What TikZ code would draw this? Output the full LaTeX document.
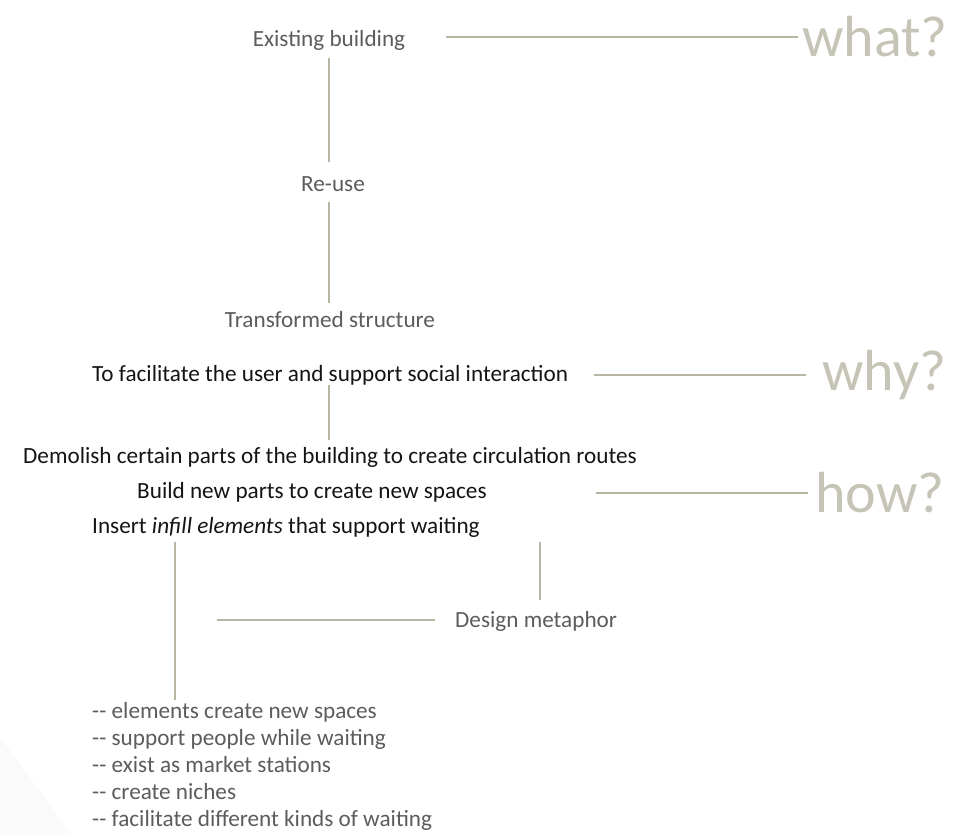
\documentclass[tikz,border=0pt]{standalone}
\usepackage{fontspec}
\setmainfont{Carlito}
\definecolor{lin}{HTML}{B8B5A2}
\definecolor{qcol}{HTML}{C6C4B6}
\definecolor{gtxt}{HTML}{5C5C5C}
\definecolor{btxt}{HTML}{141414}
\tikzset{
  conn/.style={draw=lin, line width=1.8pt},
  glabel/.style={inner sep=0pt, anchor=base, text=gtxt, font=\fontsize{23.2}{27}\selectfont},
  blabel/.style={inner sep=0pt, anchor=base west, text=btxt, font=\fontsize{23.2}{27}\selectfont},
  qlabel/.style={inner sep=0pt, anchor=base west, text=qcol, font=\fontsize{58}{60}\selectfont},
  llabel/.style={inner sep=0pt, anchor=north west, align=left, text=gtxt, font=\fontsize{23.2}{27}\selectfont},
}
\begin{document}
\begin{tikzpicture}[x=1pt,y=-1pt]
\useasboundingbox (0,0) rectangle (974,835);
\fill[black!2] (0,737) -- (72,835) -- (0,835) -- cycle;

% labels
\node[glabel] (eb) at (329,46) {Existing building};
\node[qlabel] (what) at (802,56) {what?};
\node[glabel] (reuse) at (333,191) {Re-use};
\node[glabel] (ts) at (330,327) {Transformed structure};
\node[blabel] (fac) at (92,381) {To facilitate the user and support social interaction};
\node[qlabel] (why) at (822,390) {why?};
\node[blabel] (dem) at (23,463) {Demolish certain parts of the building to create circulation routes};
\node[blabel] (bld) at (137,498) {Build new parts to create new spaces};
\node[qlabel] (how) at (815,512) {how?};
\node[blabel] (ins) at (92,533) {Insert \textit{infill elements} that support waiting};
\node[blabel, text=gtxt] (dm) at (455,627) {Design metaphor};
\node[llabel] (list) at (92,702) {-{}- elements create new spaces\\
-{}- support people while waiting\\
-{}- exist as market stations\\
-{}- create niches\\
-{}- facilitate different kinds of waiting};

% connector end points
\coordinate (w1) at (446,37);
\coordinate (w2) at (798,37);
\coordinate (v1a) at (329,58);
\coordinate (v1b) at (329,162);
\coordinate (v2a) at (329,202);
\coordinate (v2b) at (329,303);
\coordinate (y1) at (594,375);
\coordinate (y2) at (806,375);
\coordinate (v3a) at (329,385);
\coordinate (v3b) at (329,440);
\coordinate (h1) at (596,493);
\coordinate (h2) at (808,493);
\coordinate (v4a) at (540,542);
\coordinate (v4b) at (540,600);
\coordinate (v5a) at (175,542);
\coordinate (v5b) at (175,700);
\coordinate (d1) at (217,620);
\coordinate (d2) at (435,620);

\draw[conn] (w1) -- (w2);
\draw[conn] (v1a) -- (v1b);
\draw[conn] (v2a) -- (v2b);
\draw[conn] (y1) -- (y2);
\draw[conn] (v3a) -- (v3b);
\draw[conn] (h1) -- (h2);
\draw[conn] (v4a) -- (v4b);
\draw[conn] (v5a) -- (v5b);
\draw[conn] (d1) -- (d2);
\end{tikzpicture}
\end{document}
